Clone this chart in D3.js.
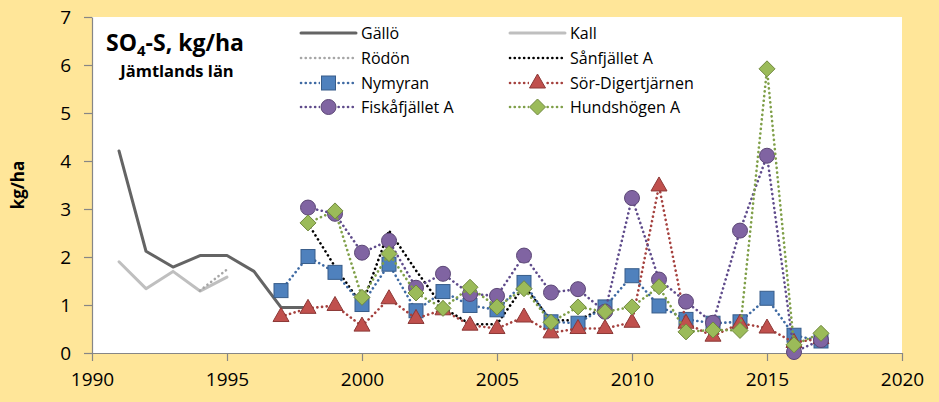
<!DOCTYPE html>
<html>
<head>
<meta charset="utf-8">
<script src="https://cdn.jsdelivr.net/npm/d3@7"></script>
<style>
  html, body { margin: 0; padding: 0; background: #ffe699; }
  svg { display: block; font-family: 'Open Sans', 'Noto Sans', sans-serif; }
</style>
</head>
<body>
<svg id="chart"></svg>
<script>
// values
const yearsGallo = [1991, 1992, 1993, 1994, 1995, 1996, 1997, 1998];
const gallo = [4.21, 2.12, 1.79, 2.03, 2.03, 1.70, 0.95, 0.95];

const yearsKall = [1991, 1992, 1993, 1994, 1995];
const kall = [1.90, 1.34, 1.70, 1.29, 1.58];

const yearsRodon = [1994, 1995];
const rodon = [1.30, 1.74];

const yearsSanfjallet = [1998, 1999, 2000, 2001, 2002, 2003, 2004, 2005, 2006, 2007, 2008, 2009];
const sanfjallet = [2.70, 1.80, 1.00, 2.55, 1.72, 0.95, 0.60, 0.60, 1.40, 0.68, 0.68, 0.95];

const yearsNymyran = d3.range(1997, 2018);
const nymyran = [1.30, 2.01, 1.68, 1.01, 1.85, 0.88, 1.28, 0.99, 0.90, 1.47, 0.65,
  0.62, 0.96, 1.61, 0.98, 0.70, 0.62, 0.65, 1.14, 0.37, 0.25];

const yearsSorDig = d3.range(1997, 2018);
const sorDig = [0.76, 0.93, 0.99, 0.56, 1.13, 0.72, 0.90, 0.58, 0.51, 0.75, 0.42,
  0.51, 0.51, 0.64, 3.48, 0.62, 0.35, 0.62, 0.52, 0.22, 0.30];

const yearsFiska = d3.range(1998, 2018);
const fiska = [3.03, 2.90, 2.09, 2.34, 1.36, 1.65, 1.23, 1.19, 2.03, 1.26,
  1.33, 0.86, 3.23, 1.53, 1.07, 0.63, 2.55, 4.11, 0.02, 0.27];

const yearsHunds = d3.range(1998, 2018);
const hunds = [2.71, 2.96, 1.16, 2.07, 1.25, 0.93, 1.37, 0.96, 1.34, 0.64,
  0.96, 0.86, 0.96, 1.38, 0.44, 0.48, 0.47, 5.92, 0.17, 0.41];

const xTicks = [1990, 1995, 2000, 2005, 2010, 2015, 2020];
const yTicks = [0, 1, 2, 3, 4, 5, 6, 7];

// series in legend order (row by row, two columns)
const series = [
  { name: 'Gällö', years: yearsGallo, values: gallo, stroke: '#646464', width: 3, dotted: false },
  { name: 'Kall', years: yearsKall, values: kall, stroke: '#bfbfbf', width: 3, dotted: false },
  { name: 'Rödön', years: yearsRodon, values: rodon, stroke: '#a6a6a6', width: 2.6, dotted: true },
  { name: 'Sånfjället A', years: yearsSanfjallet, values: sanfjallet, stroke: '#000000', width: 2.6, dotted: true },
  { name: 'Nymyran', years: yearsNymyran, values: nymyran, stroke: '#3f6aa3', width: 2.6, dotted: true,
    marker: 'square', fill: '#4f81bd', edge: '#385d8a' },
  { name: 'Sör-Digertjärnen', years: yearsSorDig, values: sorDig, stroke: '#a5413e', width: 2.6, dotted: true,
    marker: 'triangle', fill: '#c0504d', edge: '#8c3836' },
  { name: 'Fiskåfjället A', years: yearsFiska, values: fiska, stroke: '#5f4b8b', width: 2.6, dotted: true,
    marker: 'circle', fill: '#8064a2', edge: '#5c4776' },
  { name: 'Hundshögen A', years: yearsHunds, values: hunds, stroke: '#7f9f48', width: 2.6, dotted: true,
    marker: 'diamond', fill: '#9bbb59', edge: '#71893f' }
];

const width = 939;
const height = 402;
const plot = { left: 92, right: 902, top: 17, bottom: 353 };

const svg = d3.select('#chart').attr('width', width).attr('height', height);

svg.append('rect').attr('width', width).attr('height', height).attr('fill', '#ffe699');
svg.append('rect')
  .attr('x', plot.left).attr('y', plot.top)
  .attr('width', plot.right - plot.left).attr('height', plot.bottom - plot.top)
  .attr('fill', '#ffffff');

const x = d3.scaleLinear().domain([1990, 2020]).range([plot.left, plot.right]);
const y = d3.scaleLinear().domain([0, 7]).range([plot.bottom, plot.top]);

// axes
const xAxis = svg.append('g')
  .attr('transform', `translate(0,${plot.bottom})`)
  .call(d3.axisBottom(x).tickValues(xTicks).tickFormat(d3.format('d')).tickSizeInner(8).tickSizeOuter(0).tickPadding(12));
const yAxis = svg.append('g')
  .attr('transform', `translate(${plot.left},0)`)
  .call(d3.axisLeft(y).tickValues(yTicks).tickFormat(d3.format('d')).tickSizeInner(8).tickSizeOuter(0).tickPadding(13));

[xAxis, yAxis].forEach(a => {
  a.select('.domain').attr('stroke', '#868686').attr('stroke-width', 1.2);
  a.selectAll('.tick line').attr('stroke', '#868686').attr('stroke-width', 1.2);
  a.selectAll('.tick text').attr('fill', '#000').attr('font-size', 19).attr('font-family', "'Open Sans', sans-serif");
});

svg.append('text')
  .attr('transform', `translate(24,${(plot.top + plot.bottom) / 2}) rotate(-90)`)
  .attr('text-anchor', 'middle')
  .attr('font-size', 17).attr('font-weight', 'bold')
  .text('kg/ha');

// title
const title = svg.append('text')
  .attr('x', 106).attr('y', 51)
  .attr('font-size', 23).attr('font-weight', 'bold');
title.append('tspan').text('SO');
title.append('tspan').attr('font-size', 15).attr('dy', 5).text('4');
title.append('tspan').attr('dy', -5).text('-S, kg/ha');

svg.append('text')
  .attr('x', 177).attr('y', 77)
  .attr('text-anchor', 'middle')
  .attr('font-size', 16.5).attr('font-weight', 'bold')
  .text('Jämtlands län');

const line = d3.line().x(d => x(d[0])).y(d => y(d[1]));

function drawMarker(g, s, cx, cy) {
  if (s.marker === 'square') {
    g.append('rect').attr('x', cx - 7).attr('y', cy - 7).attr('width', 14).attr('height', 14)
      .attr('fill', s.fill).attr('stroke', s.edge).attr('stroke-width', 1);
  } else if (s.marker === 'circle') {
    g.append('circle').attr('cx', cx).attr('cy', cy).attr('r', 7.5)
      .attr('fill', s.fill).attr('stroke', s.edge).attr('stroke-width', 1);
  } else if (s.marker === 'triangle') {
    g.append('path').attr('d', `M${cx},${cy - 9}L${cx + 8},${cy + 5}L${cx - 8},${cy + 5}Z`)
      .attr('fill', s.fill).attr('stroke', s.edge).attr('stroke-width', 1);
  } else if (s.marker === 'diamond') {
    g.append('path').attr('d', `M${cx},${cy - 8}L${cx + 8},${cy}L${cx},${cy + 8}L${cx - 8},${cy}Z`)
      .attr('fill', s.fill).attr('stroke', s.edge).attr('stroke-width', 1);
  }
}

// series
const marks = svg.append('g').attr('class', 'series');
series.forEach(s => {
  const pts = s.years.map((yr, i) => [yr, s.values[i]]);
  const g = marks.append('g');
  g.append('path')
    .attr('d', line(pts))
    .attr('fill', 'none')
    .attr('stroke', s.stroke)
    .attr('stroke-width', s.width)
    .attr('stroke-linecap', 'round')
    .attr('stroke-linejoin', 'round')
    .attr('stroke-dasharray', s.dotted ? '0.1 4.6' : null);
  if (s.marker) pts.forEach(p => drawMarker(g, s, x(p[0]), y(p[1])));
});

// legend
const legend = svg.append('g').attr('class', 'legend');
const colX = [301, 510];
const rowY = [33, 58, 83, 107];
series.forEach((s, i) => {
  const lx = colX[i % 2];
  const ly = rowY[Math.floor(i / 2)];
  const g = legend.append('g');
  g.append('line')
    .attr('x1', lx).attr('x2', lx + 55).attr('y1', ly).attr('y2', ly)
    .attr('stroke', s.stroke).attr('stroke-width', s.width)
    .attr('stroke-linecap', 'round')
    .attr('stroke-dasharray', s.dotted ? '0.1 4.6' : null);
  if (s.marker) {
    g.append('rect').attr('x', lx + 19).attr('y', ly - 6).attr('width', 16).attr('height', 12).attr('fill', '#fff');
    drawMarker(g, s, lx + 27.5, ly);
  }
  g.append('text')
    .attr('x', lx + 60).attr('y', ly + 5.5)
    .attr('font-size', 16)
    .text(s.name);
});
</script>
</body>
</html>
